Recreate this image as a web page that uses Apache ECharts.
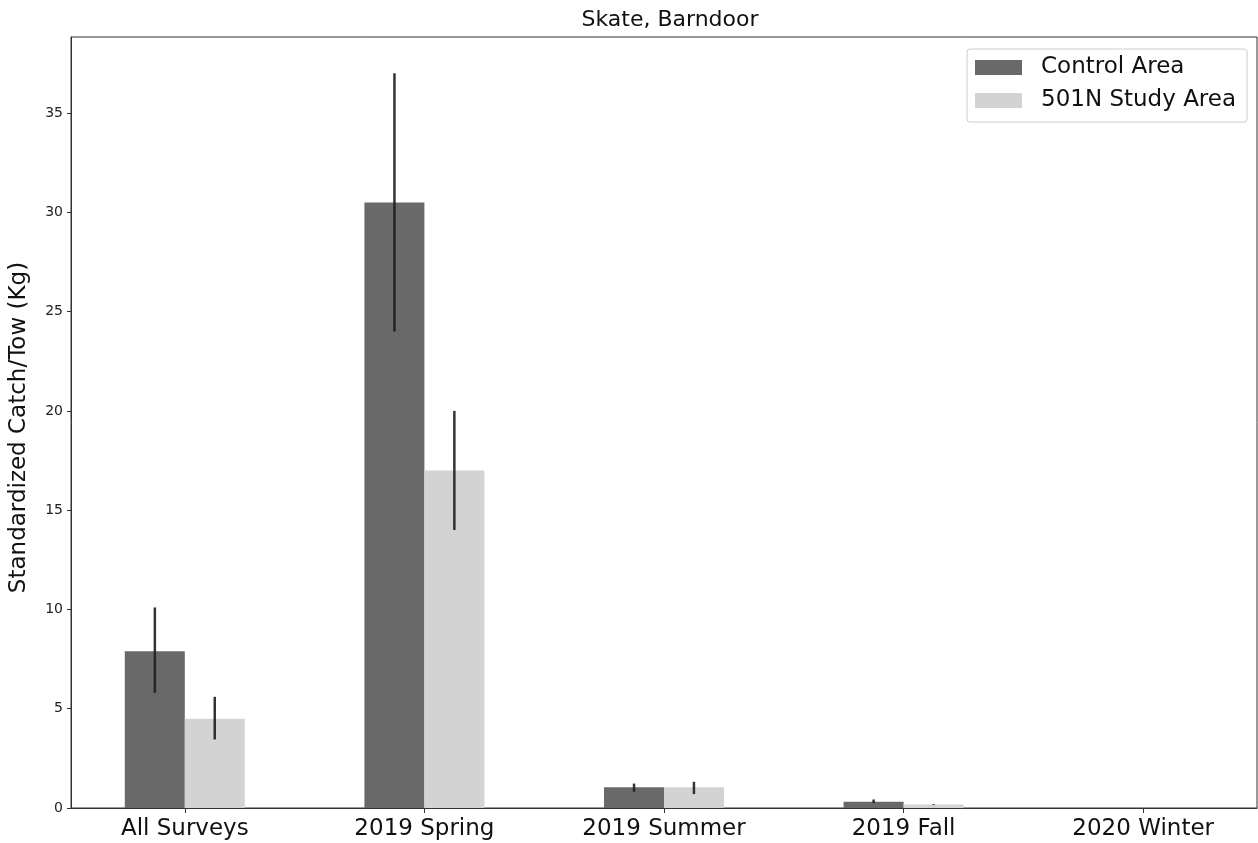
<!DOCTYPE html>
<html>
<head>
<meta charset="utf-8">
<script src="https://cdn.jsdelivr.net/npm/echarts@6/dist/echarts.min.js"></script>
<style>
html,body{margin:0;padding:0;background:#fff;}
#chart{width:1258px;height:843px;}
</style>
</head>
<body>
<div id="chart"></div>
<script>
const categories = ['All Surveys', '2019 Spring', '2019 Summer', '2019 Fall', '2020 Winter'];
const seriesNames = ['Control Area', '501N Study Area'];
const controlValues = [7.9, 30.5, 1.04, 0.32, 0];
const controlLow = [5.8, 24.0, 0.82, 0.25, 0];
const controlHigh = [10.1, 37.0, 1.23, 0.43, 0];
const studyValues = [4.5, 17.0, 1.05, 0.17, 0];
const studyLow = [3.45, 14.0, 0.70, 0.15, 0];
const studyHigh = [5.6, 20.0, 1.32, 0.19, 0];
const yTicks = [0, 5, 10, 15, 20, 25, 30, 35];

const FONT = 'DejaVu Sans';
const chart = echarts.init(document.getElementById('chart'), null, {renderer: 'canvas'});

function errData(low, high, off) {
  return categories.map((c, i) => [i + off, low[i], high[i]]);
}
function errRender(params, api) {
  const x = api.value(0);
  if (api.value(2) - api.value(1) <= 0) return null;
  const p1 = api.coord([x, api.value(1)]);
  const p2 = api.coord([x, api.value(2)]);
  return {
    type: 'line',
    shape: {x1: p1[0], y1: p1[1], x2: p2[0], y2: p2[1]},
    style: {stroke: '#1e1e1e', lineWidth: 2.5, opacity: 0.9}
  };
}

chart.setOption({
  animation: false,
  backgroundColor: '#fff',
  title: {
    text: 'Skate, Barndoor',
    left: 665, top: 4, textAlign: 'center',
    textStyle: {fontFamily: FONT, fontSize: 22, fontWeight: 'normal', color: '#111'}
  },
  legend: {
    orient: 'vertical',
    left: 967, top: 49,
    padding: [7, 11, 10, 8],
    icon: 'rect',
    itemWidth: 47, itemHeight: 15, itemGap: 10,
    borderColor: '#ccc', borderWidth: 1, borderRadius: 3,
    backgroundColor: '#fff',
    data: seriesNames,
    textStyle: {fontFamily: FONT, fontSize: 23, lineHeight: 23, color: '#111', padding: [0, 0, 0, 14]}
  },
  grid: {
    left: 70, right: 1, top: 37, bottom: 35,
    show: true, borderColor: '#333', borderWidth: 1, backgroundColor: '#fff'
  },
  xAxis: {
    type: 'value',
    min: -0.475, max: 4.475,
    splitLine: {show: false},
    axisLine: {show: true, onZero: false, lineStyle: {color: '#333'}},
    axisTick: {show: true, length: 5, lineStyle: {color: '#333'}, customValues: categories.map((c, i) => i)},
    axisLabel: {
      customValues: categories.map((c, i) => i),
      formatter: v => categories[Math.round(v)],
      fontFamily: FONT, fontSize: 23, color: '#111', margin: 10
    }
  },
  yAxis: {
    type: 'value',
    min: 0, max: 38.83,
    name: 'Standardized Catch/Tow (Kg)',
    nameLocation: 'middle', nameGap: 40,
    nameTextStyle: {fontFamily: FONT, fontSize: 23, color: '#111', padding: [0, 10, 0, 0]},
    splitLine: {show: false},
    axisLine: {show: true, onZero: false, lineStyle: {color: '#333'}},
    axisTick: {show: true, length: 4, lineStyle: {color: '#333'}, customValues: yTicks},
    axisLabel: {customValues: yTicks, fontFamily: FONT, fontSize: 14, color: '#222', margin: 8}
  },
  series: [
    {
      name: seriesNames[0], type: 'bar', barWidth: 60, barGap: '0%',
      itemStyle: {color: '#696969'},
      data: controlValues.map((v, i) => [i, v])
    },
    {
      name: seriesNames[1], type: 'bar', barWidth: 60, barGap: '0%',
      itemStyle: {color: '#d3d3d3'},
      data: studyValues.map((v, i) => [i, v])
    },
    {
      type: 'custom', renderItem: errRender, z: 10,
      data: errData(controlLow, controlHigh, -0.125)
    },
    {
      type: 'custom', renderItem: errRender, z: 10,
      data: errData(studyLow, studyHigh, 0.125)
    }
  ]
});
</script>
</body>
</html>
